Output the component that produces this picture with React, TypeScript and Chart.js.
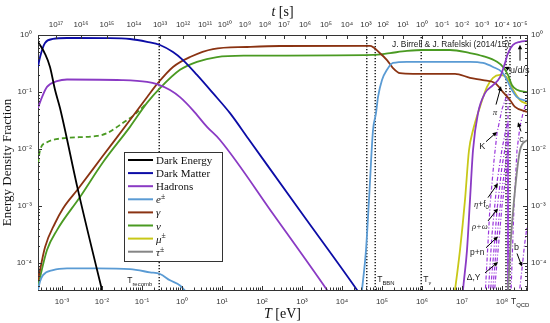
import React, { useEffect, useRef } from 'react';
import { Chart, registerables } from 'chart.js';
Chart.register(...registerables);

// ---------- axis ranges (log10 T [eV], log10 fraction) ----------
const T_LOG_MIN = -3.6;
const T_LOG_MAX = 8.625;
const F_LOG_MIN = -4.47;
const F_LOG_MAX = 0;

// ---------- tick labels ----------
const tempTickExp = [-3, -2, -1, 0, 1, 2, 3, 4, 5, 6, 7, 8];
const fracTickExp = [-4, -3, -2, -1, 0];
const timeTickExp = [17, 16, 15, 14, 13, 12, 11, 10, 9, 8, 7, 6, 5, 4, 3, 2, 1, 0, -1, -2, -3, -4, -5];
// log10 T [eV] at which each time tick sits
const timeTickLogT = [-3.15, -2.525, -1.875, -1.2, -0.55, 0.025, 0.575, 1.075, 1.575, 2.075, 2.55, 3.075, 3.6, 4.125, 4.6, 5.025, 5.525, 6.0, 6.5, 7.0, 7.5, 8.0, 8.45];

// ---------- series: log10(T/eV) and log10(energy fraction) ----------
const darkEnergyLogT = [-3.6, -3.425, -3.3, -3.175, -3.05, -2.6, -2.0, -1.9];
const darkEnergyLogF = [-0.12, -0.33, -0.56, -0.96, -1.28, -2.72, -4.47, -4.75];

const darkMatterLogT = [-3.6, -3.55, -3.425, -3.225, -2.875, -1.8, -1.3, -0.875, -0.55, -0.225, 0.025, 0.375, 0.775, 1.2, 1.65, 3.0, 4.375, 4.5];
const darkMatterLogF = [-0.56, -0.39, -0.14, -0.07, -0.053, -0.055, -0.07, -0.12, -0.175, -0.3, -0.44, -0.7, -1.02, -1.37, -1.81, -3.13, -4.47, -4.6];

const hadronsLowLogT = [-3.6, -3.5, -3.375, -3.125, -2.875, -1.5, -0.875, -0.625, -0.3, -0.05, 0.275, 0.625, 0.95, 2.3, 3.625, 3.75];
const hadronsLowLogF = [-1.28, -1.09, -0.91, -0.81, -0.78, -0.79, -0.82, -0.86, -0.965, -1.09, -1.32, -1.61, -1.84, -3.16, -4.47, -4.6];

const hadronsHighLogT = [7.0, 7.025, 7.125, 7.2, 7.275, 7.4, 7.575, 7.775, 7.95, 8.075, 8.15, 8.275, 8.45, 8.625];
const hadronsHighLogF = [-4.7, -4.47, -3.77, -2.89, -2.02, -1.37, -1.02, -0.88, -0.74, -0.49, -0.32, -0.175, -0.12, -0.105];

const electronLowLogT = [-3.6, -3.55, -3.475, -3.225, -2.875, -2.125, -1.3, -0.8, -0.55, -0.3, -0.05, 0.1];
const electronLowLogF = [-4.47, -4.32, -4.21, -4.12, -4.09, -4.09, -4.105, -4.16, -4.19, -4.3, -4.39, -4.5];

const electronHighLogT = [4.45, 4.5, 4.6, 4.675, 4.775, 4.85, 4.9, 5.0, 5.125, 5.275, 5.625, 6.7, 7.2, 7.525, 7.775, 8.0, 8.125, 8.25, 8.375, 8.625];
const electronHighLogF = [-4.8, -4.47, -3.77, -2.89, -1.67, -1.37, -1.09, -0.79, -0.61, -0.49, -0.47, -0.47, -0.47, -0.49, -0.56, -0.65, -0.79, -0.965, -1.09, -1.16];

const photonLogT = [-3.6, -3.425, -3.175, -2.975, -2.6, -2.0, -1.3, -0.875, -0.6, -0.225, 0.2, 0.775, 1.625, 2.45, 4.7, 4.95, 5.125, 5.275, 5.45, 5.775, 6.825, 7.2, 7.525, 7.825, 8.025, 8.2, 8.325, 8.625];
const photonLogF = [-4.3, -3.72, -3.3, -3.04, -2.7, -2.14, -1.49, -1.09, -0.84, -0.56, -0.386, -0.246, -0.21, -0.193, -0.19, -0.32, -0.44, -0.58, -0.67, -0.68, -0.68, -0.75, -0.79, -0.84, -1.0, -1.14, -1.26, -1.35];

const neutrinoLogT = [-3.6, -3.375, -3.125, -2.55, -1.975, -1.3, -0.875, -0.55, -0.05, 0.375, 0.875, 1.625, 2.45, 4.775, 5.2, 5.625, 6.025, 6.7, 7.2, 7.525, 7.875, 8.025, 8.15, 8.25, 8.375, 8.625];
const neutrinoLogF = [-4.4, -3.77, -3.42, -2.84, -2.23, -1.61, -1.19, -0.93, -0.61, -0.47, -0.386, -0.362, -0.36, -0.35, -0.316, -0.28, -0.263, -0.263, -0.316, -0.37, -0.47, -0.56, -0.7, -0.88, -0.96, -1.0];

const neutrinoMassiveLogT = [-3.6, -3.55, -3.375, -2.975, -2.125, -1.875, -1.475, -1.175, -0.875];
const neutrinoMassiveLogF = [-2.25, -2.02, -1.88, -1.81, -1.77, -1.72, -1.54, -1.39, -1.19];

const muonLogT = [6.78, 6.825, 6.95, 7.075, 7.175, 7.275, 7.45, 7.625, 7.775, 7.95, 8.125, 8.25, 8.45, 8.625];
const muonLogF = [-4.7, -4.47, -3.77, -2.89, -2.02, -1.67, -1.26, -0.91, -0.75, -0.7, -0.75, -0.93, -1.14, -1.21];

const tauLogT = [8.13, 8.15, 8.22, 8.3, 8.45, 8.625];
const tauLogF = [-4.7, -4.47, -3.6, -2.9, -2.02, -1.84];

// individual hadron species and heavy quarks (dash-dot)
const kaonLogT = [7.575, 7.7, 7.8, 7.875, 8.0, 8.1, 8.15, 8.151];
const kaonLogF = [-4.6, -3.0, -2.2, -1.72, -1.3, -1.1, -1.05, -5];
const etaF0LogT = [7.65, 7.75, 7.875, 8.0, 8.1, 8.15, 8.151];
const etaF0LogF = [-4.6, -3.5, -2.58, -2.0, -1.65, -1.5, -5];
const rhoOmegaLogT = [7.7, 7.8, 7.875, 8.0, 8.1, 8.15, 8.151];
const rhoOmegaLogF = [-4.6, -3.75, -3.07, -2.3, -1.9, -1.75, -5];
const nucleonLogT = [7.75, 7.82, 7.875, 8.0, 8.1, 8.15, 8.151];
const nucleonLogF = [-4.6, -4.05, -3.54, -2.7, -2.2, -2.0, -5];
const deltaYLogT = [7.8, 7.875, 8.0, 8.1, 8.15, 8.151];
const deltaYLogF = [-4.6, -3.98, -3.0, -2.45, -2.25, -5];
const charmLogT = [8.22, 8.3, 8.375, 8.45, 8.525, 8.625];
const charmLogF = [-4.6, -3.0, -2.02, -1.6, -1.37, -1.14];
const bottomLogT = [8.42, 8.5, 8.56, 8.625];
const bottomLogF = [-4.6, -4.1, -3.7, -3.35];

// vertical dotted reference temperatures (recomb, BBN pair, nu decoupling, QCD pair)
const markerLogT = [-0.57, 4.62, 4.83, 5.98, 8.1, 8.2];

// ---------- styling ----------
const SANS = '"Liberation Sans", Arial, sans-serif';
const SERIF = '"Liberation Serif", "Times New Roman", serif';
const AXIS = '#333333';
const C = {
  de: '#000000', dm: '#0c0ca6', had: '#8a3ac4', e: '#5a9bd4', g: '#8a3312', nu: '#4a9a22', mu: '#c8c818', tau: '#858585', species: '#9a36dc',
};

type Part = { t: string; italic?: boolean; sub?: boolean; sup?: boolean; family?: string };

const legendEntries: { color: string; parts: Part[] }[] = [
  { color: C.de, parts: [{ t: 'Dark Energy' }] },
  { color: C.dm, parts: [{ t: 'Dark Matter' }] },
  { color: C.had, parts: [{ t: 'Hadrons' }] },
  { color: C.e, parts: [{ t: 'e', italic: true }, { t: '±', sup: true }] },
  { color: C.g, parts: [{ t: 'γ', italic: true }] },
  { color: C.nu, parts: [{ t: 'ν', italic: true }] },
  { color: C.mu, parts: [{ t: 'μ', italic: true }, { t: '±', sup: true }] },
  { color: C.tau, parts: [{ t: 'τ', italic: true }, { t: '±', sup: true }] },
];

// text notes anchored in data coordinates (left edge, vertical middle)
const notes: { parts: Part[]; logT: number; logF: number; size: number }[] = [
  { parts: [{ t: 'J. Birrell & J. Rafelski (2014/15)' }], logT: 5.25, logF: -0.175, size: 8.4 },
  { parts: [{ t: 'u/d/s' }], logT: 8.2, logF: -0.62, size: 9 },
  { parts: [{ t: 'π', italic: true, family: SERIF }], logT: 7.77, logF: -1.36, size: 9 },
  { parts: [{ t: 'K' }], logT: 7.43, logF: -1.96, size: 9 },
  { parts: [{ t: 'c' }], logT: 8.43, logF: -1.83, size: 9 },
  { parts: [{ t: 'η', italic: true, family: SERIF }, { t: '+f' }, { t: '0', sub: true }], logT: 7.3, logF: -2.98, size: 8.5 },
  { parts: [{ t: 'ρ+ω', italic: true, family: SERIF }], logT: 7.25, logF: -3.37, size: 8.5 },
  { parts: [{ t: 'p+n' }], logT: 7.2, logF: -3.82, size: 8.5 },
  { parts: [{ t: 'Δ,Y' }], logT: 7.12, logF: -4.25, size: 8.5 },
  { parts: [{ t: 'b' }], logT: 8.3, logF: -3.72, size: 9 },
];
const arrows: { from: [number, number]; to: [number, number] }[] = [
  { from: [8.45, -0.45], to: [8.45, -0.17] },
  { from: [8.2, -0.6], to: [8.06, -0.56] },
  { from: [7.85, -1.22], to: [7.975, -0.9] },
  { from: [7.6, -1.87], to: [7.875, -1.7] },
  { from: [8.475, -1.69], to: [8.4, -1.53] },
  { from: [7.65, -2.85], to: [7.9, -2.6] },
  { from: [7.65, -3.26], to: [7.9, -3.04] },
  { from: [7.6, -3.73], to: [7.9, -3.53] },
  { from: [7.575, -4.17], to: [7.9, -3.98] },
  { from: [8.375, -3.83], to: [8.5, -4.06] },
];

// ---------- helpers ----------
const SUP: Record<string, string> = { '0': '⁰', '1': '¹', '2': '²', '3': '³', '4': '⁴', '5': '⁵', '6': '⁶', '7': '⁷', '8': '⁸', '9': '⁹', '-': '⁻' };
const pow10Label = (e: number) => '10' + String(e).split('').map((ch) => SUP[ch]).join('');
const pts = (lt: number[], lf: number[]) => lt.map((l, i) => ({ x: Math.pow(10, l), y: Math.pow(10, lf[i]) }));

function drawRich(ctx: CanvasRenderingContext2D, parts: Part[], x: number, y: number, size: number, family: string) {
  let cx = x;
  for (const p of parts) {
    const s = p.sub || p.sup ? size * 0.7 : size;
    ctx.font = `${p.italic ? 'italic ' : ''}${s}px ${p.family || family}`;
    const dy = p.sub ? size * 0.3 : p.sup ? -size * 0.38 : 0;
    ctx.fillText(p.t, cx, y + dy);
    cx += ctx.measureText(p.t).width;
  }
  return cx - x;
}
function measureRich(ctx: CanvasRenderingContext2D, parts: Part[], size: number, family: string) {
  let w = 0;
  for (const p of parts) {
    const s = p.sub || p.sup ? size * 0.7 : size;
    ctx.font = `${p.italic ? 'italic ' : ''}${s}px ${p.family || family}`;
    w += ctx.measureText(p.t).width;
  }
  return w;
}

const line = (label: string, color: string, lt: number[], lf: number[], extra: any = {}) => ({
  label,
  data: pts(lt, lf),
  borderColor: color,
  backgroundColor: color,
  borderWidth: 1.8,
  pointRadius: 0,
  fill: false,
  cubicInterpolationMode: 'monotone',
  ...extra,
});

const decoPlugin = {
  id: 'deco',
  afterDraw(chart: any) {
    const { ctx, chartArea: a, scales } = chart;
    const xs = scales.x, ys = scales.y;
    const X = (l: number) => xs.getPixelForValue(Math.pow(10, l));
    const Y = (l: number) => ys.getPixelForValue(Math.pow(10, l));
    ctx.save();

    // inward ticks
    ctx.strokeStyle = AXIS;
    ctx.lineWidth = 1;
    ctx.beginPath();
    for (let e = -4; e <= 8; e++) {
      for (let k = 1; k <= 9; k++) {
        const lv = Math.log10(k * Math.pow(10, e));
        if (lv < T_LOG_MIN || lv > T_LOG_MAX) continue;
        const px = Math.round(X(lv)) + 0.5;
        const len = k === 1 ? 4 : 2.5;
        ctx.moveTo(px, a.bottom);
        ctx.lineTo(px, a.bottom - len);
      }
    }
    for (const l of timeTickLogT) {
      const px = Math.round(X(l)) + 0.5;
      ctx.moveTo(px, a.top);
      ctx.lineTo(px, a.top + 4);
    }
    for (let e = -5; e <= 0; e++) {
      for (let k = 1; k <= 9; k++) {
        const lv = Math.log10(k * Math.pow(10, e));
        if (lv < F_LOG_MIN || lv > F_LOG_MAX) continue;
        const py = Math.round(Y(lv)) + 0.5;
        const len = k === 1 ? 4 : 2;
        ctx.moveTo(a.left, py);
        ctx.lineTo(a.left + len, py);
        ctx.moveTo(a.right, py);
        ctx.lineTo(a.right - len, py);
      }
    }
    ctx.stroke();

    // axis titles
    ctx.fillStyle = '#111';
    ctx.textBaseline = 'alphabetic';
    ctx.textAlign = 'left';
    const cx = (a.left + a.right) / 2;
    const xt: Part[] = [{ t: 'T', italic: true }, { t: ' [eV]' }];
    drawRich(ctx, xt, cx - measureRich(ctx, xt, 14, SERIF) / 2, a.bottom + 28, 14, SERIF);
    const tt: Part[] = [{ t: 't', italic: true }, { t: ' [s]' }];
    drawRich(ctx, tt, cx - measureRich(ctx, tt, 14, SERIF) / 2, 16, 14, SERIF);
    ctx.save();
    ctx.translate(11, (a.top + a.bottom) / 2);
    ctx.rotate(-Math.PI / 2);
    ctx.textAlign = 'center';
    ctx.font = `13px ${SERIF}`;
    ctx.fillText('Energy Density Fraction', 0, 0);
    ctx.restore();

    // temperature markers labels
    ctx.fillStyle = '#222';
    ctx.textAlign = 'left';
    drawRich(ctx, [{ t: 'T' }, { t: 'recomb', sub: true }], X(markerLogT[0]) - 32, a.bottom - 7, 8.5, SANS);
    drawRich(ctx, [{ t: 'T' }, { t: 'BBN', sub: true }], X(markerLogT[2]) + 2, a.bottom - 8, 8.5, SANS);
    drawRich(ctx, [{ t: 'T' }, { t: 'ν', sub: true, family: SERIF, italic: true }], X(markerLogT[3]) + 2, a.bottom - 8, 8.5, SANS);
    drawRich(ctx, [{ t: 'T' }, { t: 'QCD', sub: true }], X(markerLogT[5]) + 1, a.bottom + 14, 8.5, SANS);

    // notes
    ctx.textBaseline = 'middle';
    ctx.fillStyle = '#222';
    for (const n of notes) drawRich(ctx, n.parts, X(n.logT), Y(n.logF), n.size, SANS);

    // arrows
    ctx.strokeStyle = '#000';
    ctx.fillStyle = '#000';
    ctx.lineWidth = 1;
    for (const ar of arrows) {
      const x1 = X(ar.from[0]), y1 = Y(ar.from[1]), x2 = X(ar.to[0]), y2 = Y(ar.to[1]);
      const ang = Math.atan2(y2 - y1, x2 - x1);
      const h = 5;
      ctx.beginPath();
      ctx.moveTo(x1, y1);
      ctx.lineTo(x2 - Math.cos(ang) * h * 0.6, y2 - Math.sin(ang) * h * 0.6);
      ctx.stroke();
      ctx.beginPath();
      ctx.moveTo(x2, y2);
      ctx.lineTo(x2 - h * Math.cos(ang - 0.45), y2 - h * Math.sin(ang - 0.45));
      ctx.lineTo(x2 - h * Math.cos(ang + 0.45), y2 - h * Math.sin(ang + 0.45));
      ctx.closePath();
      ctx.fill();
    }

    // legend box
    const lx = a.left + 86, ly = a.top + 117, lw = 98, lh = 109;
    ctx.fillStyle = '#fff';
    ctx.fillRect(lx, ly, lw, lh);
    ctx.strokeStyle = AXIS;
    ctx.lineWidth = 1;
    ctx.strokeRect(lx + 0.5, ly + 0.5, lw, lh);
    ctx.textBaseline = 'alphabetic';
    legendEntries.forEach((en, i) => {
      const yy = ly + 8 + i * 13.1;
      ctx.strokeStyle = en.color;
      ctx.lineWidth = 2;
      ctx.beginPath();
      ctx.moveTo(lx + 4, yy);
      ctx.lineTo(lx + 29, yy);
      ctx.stroke();
      ctx.fillStyle = '#111';
      drawRich(ctx, en.parts, lx + 32, yy + 4, 11, SERIF);
    });

    ctx.restore();
  },
};

export default function App() {
  const ref = useRef<HTMLCanvasElement>(null);
  useEffect(() => {
    document.body.style.margin = '0';
    const canvas = ref.current!;
    const speciesStyle = { borderWidth: 1.2, borderDash: [4, 2, 1, 2], cubicInterpolationMode: 'default', tension: 0 };
    const datasets: any[] = [
      line('Dark Energy', C.de, darkEnergyLogT, darkEnergyLogF),
      line('Dark Matter', C.dm, darkMatterLogT, darkMatterLogF),
      line('Hadrons', C.had, hadronsLowLogT, hadronsLowLogF),
      line('Hadrons (high T)', C.had, hadronsHighLogT, hadronsHighLogF),
      line('e±', C.e, electronLowLogT, electronLowLogF),
      line('e± (high T)', C.e, electronHighLogT, electronHighLogF),
      line('γ', C.g, photonLogT, photonLogF),
      line('ν', C.nu, neutrinoLogT, neutrinoLogF),
      line('ν (massive)', C.nu, neutrinoMassiveLogT, neutrinoMassiveLogF, { borderDash: [5, 3] }),
      line('μ±', C.mu, muonLogT, muonLogF),
      line('τ±', C.tau, tauLogT, tauLogF),
      line('K', C.species, kaonLogT, kaonLogF, speciesStyle),
      line('η+f0', C.species, etaF0LogT, etaF0LogF, speciesStyle),
      line('ρ+ω', C.species, rhoOmegaLogT, rhoOmegaLogF, speciesStyle),
      line('p+n', C.species, nucleonLogT, nucleonLogF, speciesStyle),
      line('Δ,Y', C.species, deltaYLogT, deltaYLogF, speciesStyle),
      line('c', C.species, charmLogT, charmLogF, speciesStyle),
      line('b', C.species, bottomLogT, bottomLogF, speciesStyle),
      ...markerLogT.map((l) => ({
        label: 'marker',
        data: [{ x: Math.pow(10, l), y: 1e-6 }, { x: Math.pow(10, l), y: 1 }],
        borderColor: '#000',
        borderWidth: 1.3,
        borderDash: [1.3, 1.7],
        pointRadius: 0,
        tension: 0,
      })),
    ];
    const tickFont = { family: SANS, size: 8 };
    const noGrid = { display: false, drawTicks: false };
    const border = { display: true, color: AXIS, width: 1 };
    const chart = new Chart(canvas, {
      type: 'line',
      data: { datasets },
      plugins: [decoPlugin],
      options: {
        animation: false,
        responsive: false,
        maintainAspectRatio: false,
        layout: { padding: 0 },
        plugins: { legend: { display: false }, tooltip: { enabled: false } },
        scales: {
          x: {
            type: 'logarithmic',
            position: 'bottom',
            min: Math.pow(10, T_LOG_MIN),
            max: Math.pow(10, T_LOG_MAX),
            afterBuildTicks: (s: any) => { s.ticks = tempTickExp.map((e) => ({ value: Math.pow(10, e) })); },
            afterFit: (s: any) => { s.height = 33; },
            ticks: { callback: (v: any) => pow10Label(Math.round(Math.log10(v))), font: tickFont, color: AXIS, padding: 7, autoSkip: false, maxRotation: 0, minRotation: 0 },
            grid: noGrid,
            border,
          },
          xTop: {
            type: 'logarithmic',
            position: 'top',
            min: Math.pow(10, T_LOG_MIN),
            max: Math.pow(10, T_LOG_MAX),
            afterBuildTicks: (s: any) => { s.ticks = timeTickLogT.map((l) => ({ value: Math.pow(10, l) })); },
            afterFit: (s: any) => { s.height = 35; },
            ticks: { callback: (_v: any, i: number) => pow10Label(timeTickExp[i]), font: tickFont, color: AXIS, padding: 5, autoSkip: false, maxRotation: 0, minRotation: 0 },
            grid: noGrid,
            border,
          },
          y: {
            type: 'logarithmic',
            position: 'left',
            min: Math.pow(10, F_LOG_MIN),
            max: Math.pow(10, F_LOG_MAX),
            afterBuildTicks: (s: any) => { s.ticks = fracTickExp.map((e) => ({ value: Math.pow(10, e) })); },
            afterFit: (s: any) => { s.width = 38; },
            ticks: { callback: (v: any) => pow10Label(Math.round(Math.log10(v))), font: tickFont, color: AXIS, padding: 6, autoSkip: false },
            grid: noGrid,
            border,
          },
          yRight: {
            type: 'logarithmic',
            position: 'right',
            min: Math.pow(10, F_LOG_MIN),
            max: Math.pow(10, F_LOG_MAX),
            afterBuildTicks: (s: any) => { s.ticks = fracTickExp.map((e) => ({ value: Math.pow(10, e) })); },
            afterFit: (s: any) => { s.width = 23; },
            ticks: { callback: (v: any) => pow10Label(Math.round(Math.log10(v))), font: tickFont, color: AXIS, padding: 4, autoSkip: false },
            grid: noGrid,
            border,
          },
        },
      } as any,
    } as any);
    return () => chart.destroy();
  }, []);
  return (
    <div style={{ width: 550, height: 323 }}>
      <canvas ref={ref} width={550} height={323} style={{ display: 'block', width: 550, height: 323 }} />
    </div>
  );
}
